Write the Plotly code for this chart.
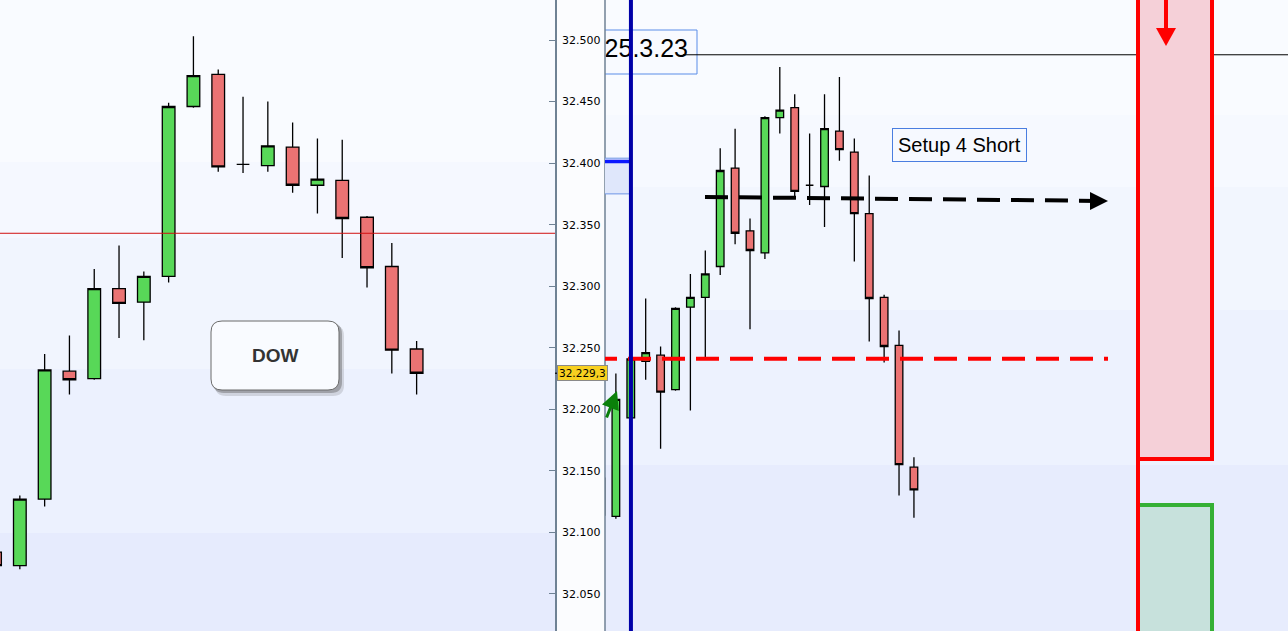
import plotly.graph_objects as go

W, H = 1288, 631

# ---------------- data ----------------
# Left panel: DOW candles
left_idx = list(range(18))
left_open = [32084, 32073, 32127, 32231, 32225, 32298, 32287, 32308, 32446, 32472,
             32399, 32398, 32413, 32382, 32386, 32356, 32316, 32249]
left_high = [32088, 32130, 32245, 32260, 32314, 32333, 32312, 32449, 32503, 32476,
             32454, 32450, 32433, 32420, 32419, 32357, 32335, 32255.5]
left_low = [32069, 32070, 32121, 32212, 32224, 32258, 32256, 32303, 32445, 32393,
            32392, 32393, 32376, 32359, 32323, 32299, 32229, 32212]
left_close = [32073, 32127, 32232, 32224, 32298, 32286, 32308, 32446, 32471, 32397,
              32399, 32414, 32382, 32387, 32355, 32315, 32248, 32229.3]

# Right panel: setup chart candles
right_idx = list(range(22))
right_open = [32144, 32113, 32193, 32239, 32244, 32216, 32283, 32291, 32316, 32396, 32345,
              32327, 32437, 32445, 32382, 32381, 32426, 32409, 32359, 32291, 32252, 32153]
right_high = [32148, 32229, 32244, 32290, 32251, 32283, 32310, 32329, 32412, 32428, 32355,
              32438, 32478, 32456, 32424, 32456, 32470, 32420, 32390, 32293, 32264, 32161]
right_low = [32112, 32111, 32191, 32224, 32168, 32215, 32199, 32242, 32309, 32334, 32265,
             32322, 32424, 32373, 32366, 32348, 32402, 32320, 32255, 32238, 32130, 32112]
right_close = [32114, 32208, 32241, 32246, 32214, 32282, 32291, 32310, 32394, 32343, 32329,
               32437, 32443, 32377, 32382, 32428, 32411, 32359, 32290, 32251, 32155, 32134.5]

tick_values = [32050, 32100, 32150, 32200, 32250, 32300, 32350, 32400, 32450, 32500]
last_price = 32229.3
last_price_label = "32.229,3"
left_ref_level = 32343
top_line_level = 32488
entry_level = 32241
setup_level_start, setup_level_end = 32372.5, 32369.3
blue_level = 32401.3
blue_zone = (32375, 32404)
stop_zone_bottom = 32159.6
target_zone_top = 32122.3
date_label = "25.3.23"
setup_label = "Setup 4 Short"
panel_label = "DOW"

# ---------------- geometry ----------------
Y_RANGE = [32019.9, 32532.5]
LX_RANGE = [0.2, 22.58]
RX_RANGE = [0.27, 46.1]
L_RIGHT = 555
R_LEFT = 605


def px(x):
    return x / W


def py(y):
    return 1 - y / H


def rx(xpix):  # pixel -> right panel index units
    return RX_RANGE[0] + (xpix - R_LEFT) * (RX_RANGE[1] - RX_RANGE[0]) / (W - R_LEFT)


def price(ypix):  # pixel -> price units
    return Y_RANGE[1] - ypix * (Y_RANGE[1] - Y_RANGE[0]) / H


GREEN = '#58d858'
RED = '#eb7373'
FONT = 'Liberation Sans, Arial, sans-serif'
AXFONT = 'DejaVu Sans, Verdana, sans-serif'

fig = go.Figure()

common = dict(
    increasing=dict(fillcolor=GREEN, line=dict(color='black', width=1.3)),
    decreasing=dict(fillcolor=RED, line=dict(color='black', width=1.3)),
    whiskerwidth=0, hoverinfo='skip', showlegend=False,
)
fig.add_trace(go.Candlestick(x=left_idx, open=left_open, high=left_high, low=left_low,
                             close=left_close, xaxis='x', yaxis='y', **common))
fig.add_trace(go.Candlestick(x=right_idx, open=right_open, high=right_high, low=right_low,
                             close=right_close, xaxis='x2', yaxis='y2', **common))

shapes = []

# background bands
left_bands = [(0, 162, '#f9fbff'), (162, 238, '#f5f8ff'), (238, 369, '#f1f5fe'),
              (369, 533, '#ecf1fe'), (533, 631, '#e6ebfd')]
right_bands = [(0, 115, '#f9fbff'), (115, 187, '#f6f9ff'), (187, 310, '#f2f6fe'),
               (310, 465, '#edf2fe'), (465, 631, '#e7ecfd')]
for y0, y1, c in left_bands:
    shapes.append(dict(type='rect', xref='paper', yref='paper', x0=0, x1=px(L_RIGHT),
                       y0=py(y1), y1=py(y0), fillcolor=c, line_width=0, layer='below'))
for y0, y1, c in right_bands:
    shapes.append(dict(type='rect', xref='paper', yref='paper', x0=px(R_LEFT), x1=1,
                       y0=py(y1), y1=py(y0), fillcolor=c, line_width=0, layer='below'))

# left panel reference line
shapes.append(dict(type='line', xref='x domain', yref='y', x0=0, x1=1,
                   y0=left_ref_level, y1=left_ref_level, line=dict(color='#d01010', width=1)))


# DOW rounded box with shadow
def rrect_path(x0, y0, x1, y1, r):
    pts = []
    pts.append(f"M {px(x0 + r)},{py(y0)}")
    pts.append(f"L {px(x1 - r)},{py(y0)}")
    pts.append(f"Q {px(x1)},{py(y0)} {px(x1)},{py(y0 + r)}")
    pts.append(f"L {px(x1)},{py(y1 - r)}")
    pts.append(f"Q {px(x1)},{py(y1)} {px(x1 - r)},{py(y1)}")
    pts.append(f"L {px(x0 + r)},{py(y1)}")
    pts.append(f"Q {px(x0)},{py(y1)} {px(x0)},{py(y1 - r)}")
    pts.append(f"L {px(x0)},{py(y0 + r)}")
    pts.append(f"Q {px(x0)},{py(y0)} {px(x0 + r)},{py(y0)}")
    return ' '.join(pts) + ' Z'


shapes.append(dict(type='path', xref='paper', yref='paper', path=rrect_path(215, 325, 344, 396, 11),
                   fillcolor='rgba(80,80,80,0.18)', line_width=0))
shapes.append(dict(type='path', xref='paper', yref='paper', path=rrect_path(213, 323, 342, 393, 11),
                   fillcolor='rgba(70,70,70,0.35)', line_width=0))
shapes.append(dict(type='path', xref='paper', yref='paper', path=rrect_path(211, 321, 339, 390, 11),
                   fillcolor='#f9fbff', line=dict(color='#6b6b6b', width=1)))

# panel separator and price tick
shapes.append(dict(type='line', xref='paper', yref='paper', x0=px(R_LEFT), x1=px(R_LEFT), y0=0, y1=1,
                   line=dict(color='#6f8294', width=1.5)))
shapes.append(dict(type='line', xref='paper', yref='y', x0=px(L_RIGHT), x1=px(560),
                   y0=last_price, y1=last_price, line=dict(color='black', width=1.2)))

# right panel annotations (clipped to the panel)
shapes.append(dict(type='rect', xref='x2', yref='y2', x0=rx(585), x1=rx(697), layer='below',
                   y0=price(74), y1=price(30), fillcolor='#f8faff', line=dict(color='#5b8de8', width=1)))
shapes.append(dict(type='line', xref='x2', yref='y2', x0=rx(683), x1=RX_RANGE[1] + 1,
                   y0=top_line_level, y1=top_line_level, line=dict(color='black', width=1)))
shapes.append(dict(type='rect', xref='x2', yref='y2', x0=rx(585), x1=2.01,
                   y0=blue_zone[0], y1=blue_zone[1], fillcolor='#dfe7fb',
                   line=dict(color='#6d95e6', width=1)))
shapes.append(dict(type='line', xref='x2', yref='y2', x0=rx(585), x1=2.01,
                   y0=blue_level, y1=blue_level, line=dict(color='#0a18ff', width=3.5)))
# red dashed entry line
shapes.append(dict(type='line', xref='x2', yref='y2', x0=rx(594), x1=rx(1108),
                   y0=entry_level, y1=entry_level, line=dict(color='#ff0000', width=4, dash='23px,11px')))
# black dashed setup arrow
shapes.append(dict(type='line', xref='x2', yref='y2', x0=rx(705), x1=rx(1098),
                   y0=setup_level_start, y1=setup_level_end,
                   line=dict(color='black', width=4, dash='23px,11px')))
shapes.append(dict(type='path', xref='x2', yref='y2',
                   path=f"M {rx(1090)},{price(192)} L {rx(1108)},{setup_level_end} L {rx(1090)},{price(210)} Z",
                   fillcolor='black', line_width=0))
# target (green) and stop (red) zones
shapes.append(dict(type='rect', xref='x2', yref='y2', x0=rx(1138), x1=rx(1212),
                   y0=Y_RANGE[0] - 20, y1=target_zone_top, fillcolor='#c7e1dc',
                   line=dict(color='#35b035', width=4)))
shapes.append(dict(type='rect', xref='x2', yref='y2', x0=rx(1138), x1=rx(1212),
                   y0=stop_zone_bottom, y1=Y_RANGE[1] + 20, fillcolor='#f5d0d8',
                   line=dict(color='#ff0000', width=4)))
shapes.append(dict(type='line', xref='x2', yref='y2', x0=rx(1138), x1=rx(1138),
                   y0=Y_RANGE[0] - 20, y1=stop_zone_bottom, line=dict(color='#ff0000', width=4)))
shapes.append(dict(type='line', xref='x2', yref='y2', x0=rx(1166), x1=rx(1166),
                   y0=Y_RANGE[1] + 20, y1=price(32), line=dict(color='#ff0000', width=4)))
shapes.append(dict(type='path', xref='x2', yref='y2',
                   path=f"M {rx(1156)},{price(28)} L {rx(1176)},{price(28)} L {rx(1166)},{price(46)} Z",
                   fillcolor='#ff0000', line_width=0))
# blue vertical time marker
shapes.append(dict(type='line', xref='x2', yref='y2 domain', x0=2.01, x1=2.01, y0=0, y1=1,
                   line=dict(color='#0000a8', width=4)))

# date label as a text trace so that the panel edge clips it
fig.add_trace(go.Scatter(x=[rx(688)], y=[price(51)], mode='text', text=[date_label],
                         textposition='middle left', cliponaxis=True,
                         textfont=dict(family=FONT, size=25, color='black'),
                         xaxis='x2', yaxis='y2', hoverinfo='skip', showlegend=False))

annotations = [
    dict(xref='paper', yref='paper', x=px(275), y=py(356), xanchor='center', yanchor='middle',
         text=f"<b>{panel_label}</b>", showarrow=False,
         font=dict(family=FONT, size=19, color='#333333')),
    dict(xref='paper', yref='y', x=px(582), y=last_price, xanchor='center', yanchor='middle',
         text=last_price_label, showarrow=False,
         bgcolor='#f8d020', bordercolor='#8a8a8a', borderwidth=1, borderpad=1,
         font=dict(family=AXFONT, size=10.5, color='black')),
    dict(xref='paper', yref='paper', x=px(959.5), y=py(145), xanchor='center', yanchor='middle',
         text=setup_label, showarrow=False,
         bgcolor='#f6f9ff', bordercolor='#4a7ee0', borderwidth=1, borderpad=5,
         font=dict(family=FONT, size=20, color='black')),
    dict(xref='x2', yref='y2', x=rx(617), y=price(391), text='', showarrow=True,
         ax=-11, ay=28, arrowcolor='#0a800a', arrowwidth=3, arrowhead=2, arrowsize=1.2),
]

fig.update_layout(
    width=W, height=H, margin=dict(l=0, r=0, t=0, b=0),
    paper_bgcolor='#fbfcfe', plot_bgcolor='rgba(0,0,0,0)',
    separators=',.', showlegend=False, boxgap=0.27,
    shapes=shapes, annotations=annotations,
    xaxis=dict(domain=[0, px(L_RIGHT)], range=LX_RANGE, visible=False,
               rangeslider=dict(visible=False), anchor='y'),
    yaxis=dict(domain=[0, 1], range=Y_RANGE, side='right', anchor='x', ticks='inside',
               ticklen=6, tickcolor='#6f8294', showline=True, linecolor='#6f8294', linewidth=1.5,
               tickvals=tick_values, tickformat=',.0f', showgrid=False, zeroline=False,
               ticklabelstandoff=3,
               tickfont=dict(family=AXFONT, size=11, color='black')),
    xaxis2=dict(domain=[px(R_LEFT), 1], range=RX_RANGE, visible=False,
                rangeslider=dict(visible=False), anchor='y2'),
    yaxis2=dict(domain=[0, 1], range=Y_RANGE, visible=False, anchor='x2'),
)

fig.write_html("out.html", config={'displayModeBar': False},
               post_script="document.body.style.margin='0';document.body.style.overflow='hidden';")
